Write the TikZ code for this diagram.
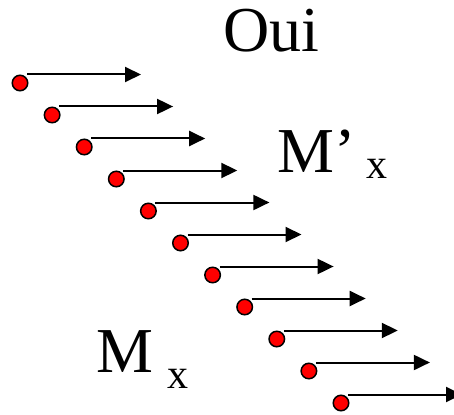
\documentclass[tikz,border=0pt]{standalone}
\usepackage{fontspec}
\setmainfont{Liberation Serif}
\usetikzlibrary{arrows.meta,calc}
\begin{document}
\begin{tikzpicture}[x=1pt,y=-1pt,
  dot/.style={circle,draw=black,line width=1.5pt,fill=red,inner sep=0pt,minimum size=15.5pt},
  vec/.style={line width=2pt,-{Triangle[length=16pt,width=15pt]}},
  bigtxt/.style={font=\fontsize{64}{64}\selectfont,inner sep=0pt},
  subtxt/.style={font=\fontsize{42}{42}\selectfont,inner sep=0pt}]
\useasboundingbox (0,0) rectangle (454,414);
\clip (0,0) rectangle (454,414);
\foreach \i in {0,...,10} {
  \coordinate (s\i) at ({20+32.1*\i+7},{83+32*\i-8.5});
  \coordinate (e\i) at ({20+32.1*\i+121},{83+32*\i-8.5});
  \draw[vec] (s\i) -- (e\i);
  \node[dot] (d\i) at ({20+32.1*\i},{83+32*\i}) {};
}
\node[bigtxt,anchor=base] (oui) at (271,52) {Oui};
\node[bigtxt,anchor=base west] (mp) at (277,172) {M’};
\node[subtxt,anchor=base west] (mpx) at (366,178) {x};
\node[bigtxt,anchor=base west] (m) at (96,372) {M};
\node[subtxt,anchor=base west] (mx) at (167,388) {x};
\end{tikzpicture}
\end{document}
